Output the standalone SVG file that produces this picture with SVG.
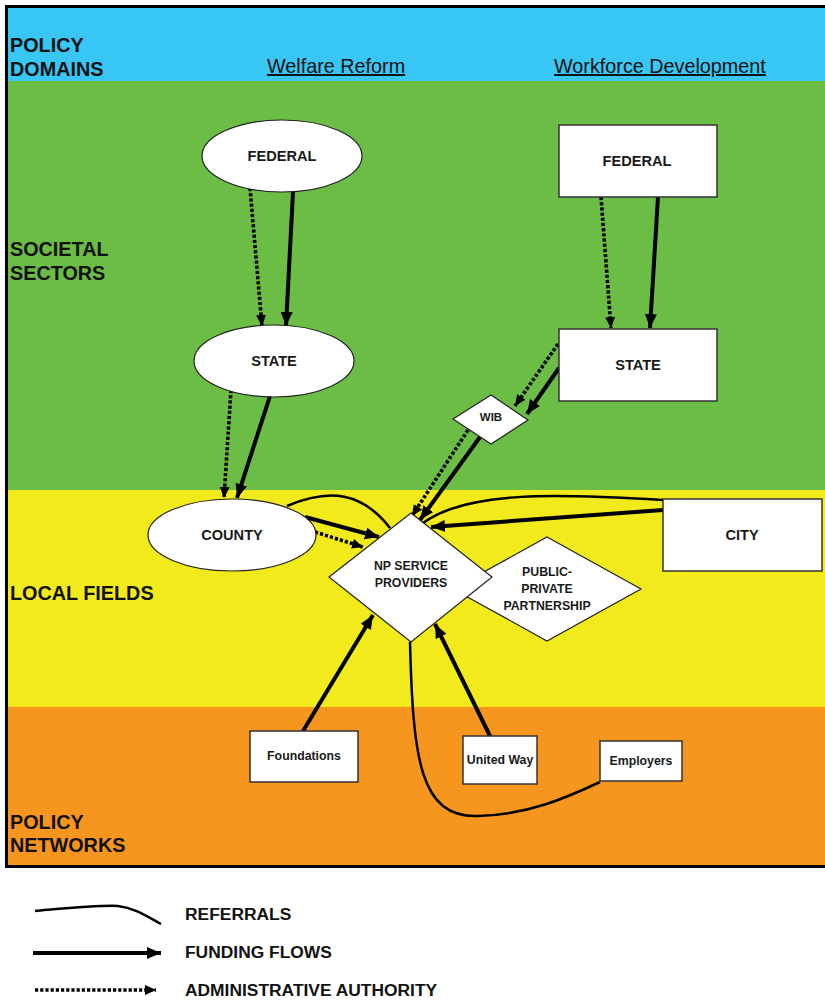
<svg xmlns="http://www.w3.org/2000/svg" width="825" height="1000" viewBox="0 0 825 1000">
<style>
  .band-label{font-family:"Liberation Sans",Arial,sans-serif;font-weight:bold;font-size:19.8px;fill:#111}
  .domain{font-family:"Liberation Sans",Arial,sans-serif;font-size:19.8px;fill:#111;text-decoration:underline}
  .node{fill:#fff;stroke:#222;stroke-width:1.2}
  .rectnode{fill:#fff;stroke:#333;stroke-width:1.5}
  .lbl{font-family:"Liberation Sans",Arial,sans-serif;font-weight:bold;fill:#1a1a1a;text-anchor:middle}
  .big{font-size:14.6px}
  .small{font-size:12.3px}
  .fund{fill:none;stroke:#000;stroke-width:4;marker-end:url(#ahSolid)}
  .admin{fill:none;stroke:#000;stroke-width:3.6;stroke-dasharray:3.2 2;marker-end:url(#ahDot)}
  .ref{fill:none;stroke:#000;stroke-width:2.5}
  .legend{font-family:"Liberation Sans",Arial,sans-serif;font-weight:bold;font-size:17.4px;fill:#111}
</style>
<defs>
  <marker id="ahSolid" markerUnits="userSpaceOnUse" markerWidth="16" markerHeight="14" refX="14" refY="6" orient="auto">
    <path d="M0,0 L14,6 L0,12 Z" fill="#000"/>
  </marker>
  <marker id="ahDot" markerUnits="userSpaceOnUse" markerWidth="14" markerHeight="12" refX="11" refY="5" orient="auto">
    <path d="M0,0 L11,5 L0,10 Z" fill="#000"/>
  </marker>
</defs>

<!-- bands -->
<rect x="6" y="6" width="825" height="75" fill="#38C6F4"/>
<rect x="6" y="81" width="825" height="409" fill="#6BBD45"/>
<rect x="6" y="490" width="825" height="217" fill="#F2EA1A"/>
<rect x="6" y="707" width="825" height="160" fill="#F7961E"/>
<path d="M831,6.5 H6.5 V866.5 H831" fill="none" stroke="#000" stroke-width="3"/>

<text class="band-label" x="10" y="52">POLICY</text>
<text class="band-label" x="10" y="76">DOMAINS</text>
<text class="band-label" x="10" y="256">SOCIETAL</text>
<text class="band-label" x="10" y="280">SECTORS</text>
<text class="band-label" x="10" y="600">LOCAL FIELDS</text>
<text class="band-label" x="10" y="829">POLICY</text>
<text class="band-label" x="10" y="852">NETWORKS</text>

<text class="domain" x="267" y="73">Welfare Reform</text>
<text class="domain" x="554" y="73">Workforce Development</text>

<!-- connectors -->
<g id="connectors">
  <!-- federal -> state (welfare) -->
  <line class="admin" x1="250" y1="188" x2="262" y2="326"/>
  <line class="fund" x1="293" y1="192" x2="286" y2="326"/>
  <!-- state -> county -->
  <line class="admin" x1="231" y1="390" x2="224" y2="498"/>
  <line class="fund" x1="270" y1="396" x2="237" y2="498"/>
  <!-- federal -> state (workforce) -->
  <line class="admin" x1="601" y1="197" x2="611" y2="328"/>
  <line class="fund" x1="658" y1="197" x2="650" y2="328"/>
  <!-- state -> WIB -->
  <line class="admin" x1="558" y1="344" x2="515" y2="406"/>
  <line class="fund" x1="559" y1="368" x2="527" y2="414"/>
  <!-- WIB -> NP -->
  <line class="admin" x1="468" y1="430" x2="412" y2="516"/>
  <line class="fund" x1="480" y1="437" x2="420" y2="520"/>
  <!-- county -> NP -->
  <line class="fund" x1="305" y1="517" x2="379" y2="537"/>
  <line class="admin" x1="315" y1="532" x2="363" y2="547"/>
  <!-- city -> NP -->
  <line class="fund" x1="663" y1="510" x2="431" y2="527"/>
  <!-- foundations, united way -> NP -->
  <line class="fund" x1="303" y1="731" x2="373" y2="615"/>
  <line class="fund" x1="490" y1="736" x2="435" y2="624"/>
  <!-- referrals -->
  <path class="ref" d="M287,506 C330,488 362,492 390,528"/>
  <path class="ref" d="M663,500 C560,494 468,490 423,523"/>
  <path class="ref" d="M410,642 C413,760 420,818 478,816 C528,815 568,797 600,782"/>
</g>

<!-- nodes -->
<g id="federal-welfare">
  <ellipse class="node" cx="282" cy="156" rx="80" ry="36"/>
  <text class="lbl big" x="282" y="161">FEDERAL</text>
</g>
<g id="state-welfare">
  <ellipse class="node" cx="274" cy="361" rx="80" ry="36"/>
  <text class="lbl big" x="274" y="366">STATE</text>
</g>
<g id="county">
  <ellipse class="node" cx="232" cy="535" rx="84" ry="36"/>
  <text class="lbl big" x="232" y="540">COUNTY</text>
</g>
<g id="federal-workforce">
  <rect class="rectnode" x="559" y="125" width="158" height="72"/>
  <text class="lbl big" x="637" y="166">FEDERAL</text>
</g>
<g id="state-workforce">
  <rect class="rectnode" x="559" y="329" width="158" height="72"/>
  <text class="lbl big" x="638" y="370">STATE</text>
</g>
<g id="wib">
  <polygon class="node" points="491,395 528,420 491,444 453,419"/>
  <text class="lbl" style="font-size:11.5px" x="491" y="421">WIB</text>
</g>
<g id="city">
  <rect class="rectnode" x="663" y="499" width="159" height="72"/>
  <text class="lbl big" x="742" y="540">CITY</text>
</g>
<g id="ppp">
  <polygon class="node" points="547,537 641,589 547,641 453,589"/>
  <text class="lbl small" x="547" y="576">PUBLIC-</text>
  <text class="lbl small" x="547" y="593">PRIVATE</text>
  <text class="lbl small" x="547" y="610">PARTNERSHIP</text>
</g>
<g id="np-service-providers">
  <polygon class="node" points="411,513 492,577 411,642 329,577"/>
  <text class="lbl small" x="411" y="570">NP SERVICE</text>
  <text class="lbl small" x="411" y="587">PROVIDERS</text>
</g>
<g id="foundations">
  <rect class="rectnode" x="250" y="731" width="108" height="51"/>
  <text class="lbl small" x="304" y="760">Foundations</text>
</g>
<g id="united-way">
  <rect class="rectnode" x="463" y="736" width="74" height="48"/>
  <text class="lbl small" x="500" y="764">United Way</text>
</g>
<g id="employers">
  <rect class="rectnode" x="600" y="741" width="82" height="40"/>
  <text class="lbl small" x="641" y="765">Employers</text>
</g>

<!-- legend -->
<g id="legend">
  <path class="ref" d="M35,911 C70,908 100,905 118,906 C135,908 148,917 161,924"/>
  <text class="legend" x="185" y="920">REFERRALS</text>
  <line class="fund" x1="33" y1="953" x2="161" y2="953"/>
  <text class="legend" x="185" y="958">FUNDING FLOWS</text>
  <line class="admin" x1="35" y1="990" x2="156" y2="990"/>
  <text class="legend" x="185" y="996">ADMINISTRATIVE AUTHORITY</text>
</g>
</svg>
